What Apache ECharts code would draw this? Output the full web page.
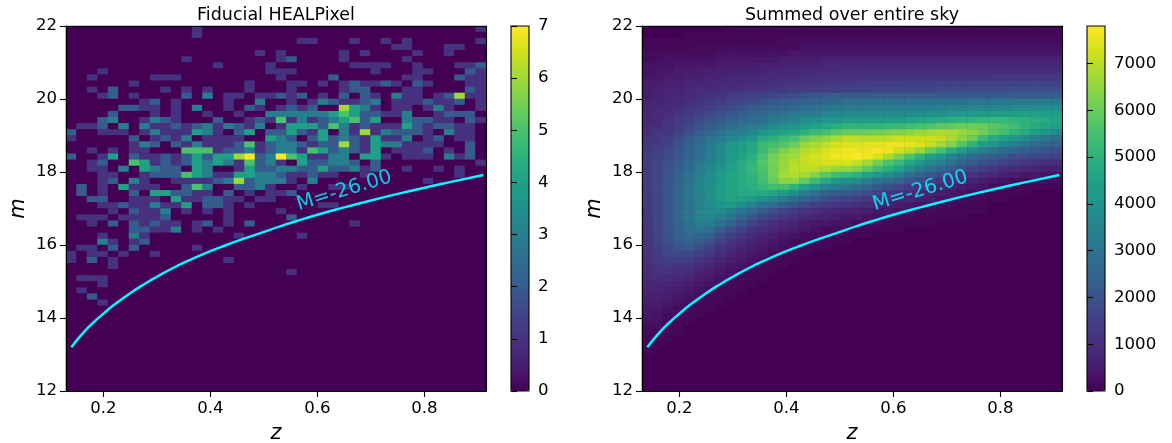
<!DOCTYPE html>
<html><head><meta charset="utf-8">
<style>html,body{margin:0;padding:0;background:#fff}#c{width:1172px;height:443px}</style>
<script src="https://cdn.jsdelivr.net/npm/echarts@6/dist/echarts.min.js"></script>
</head><body><div id="c"></div>
<script>
// Left panel: counts per cell, one object per m-bin row (top row first), keyed by z-bin index.
const fiducialRows = [
{12:1,39:1},{12:1},{22:1,23:1,27:1,30:1,32:1,39:1},{31:1,32:1,36:1,37:1},
{18:1,20:1,26:1,28:1,33:1,36:1},{11:1,20:1,21:2,26:1,32:1},
{14:1,19:1,27:1,28:1,29:1,30:1,33:1,37:1,38:1,39:2},
{3:1,19:1,20:1,21:1,29:1,33:1,34:1,38:2,39:1},
{2:1,8:1,9:1,10:1,20:1,25:2,32:1,33:1,37:2,38:1,39:1},
{6:1,17:1,21:1,22:1,24:1,26:1,27:2,28:1,29:1,30:2,31:1,33:2,34:1,38:1,39:1},
{2:1,4:2,9:1,11:1,13:1,17:1,21:1,26:1,27:2,28:2,32:1,33:1,38:2,39:1},
{3:1,4:2,6:1,11:2,13:3,15:1,16:1,18:1,19:1,20:2,21:1,22:2,24:1,26:2,28:2,29:1,31:3,32:1,33:1,35:1,36:2,37:6,38:1,39:1},
{7:1,8:2,10:1,15:1,18:3,21:1,23:1,24:3,25:2,26:1,27:1,28:2,29:3,31:1,32:1,33:1,34:2,35:1,36:1,37:2,39:1},
{5:2,6:2,7:1,8:1,10:1,12:3,15:1,17:2,18:1,20:1,21:2,22:1,23:2,26:6,27:4,28:3,29:1,31:1,32:1,34:1,35:3,36:1,39:1},
{4:2,8:1,10:1,13:1,16:1,19:3,20:3,21:3,22:3,23:3,24:3,25:4,26:5,27:4,28:2,29:2,30:1,31:1,32:3,35:1,36:2,37:2,38:2},
{3:2,4:3,7:1,8:3,9:2,10:1,14:2,17:1,18:2,19:1,20:5,21:1,22:3,23:1,24:2,25:3,26:4,27:5,28:2,29:4,32:3,33:2,34:2,35:1,36:1,38:2,39:1},
{1:1,2:1,3:2,5:3,7:3,8:1,9:1,10:2,11:1,12:2,13:3,14:1,15:3,16:2,17:1,18:3,20:1,21:4,22:4,23:4,24:2,25:5,26:3,27:1,28:2,29:1,30:1,31:1,32:4,33:2,34:1,35:2,36:2,37:1,38:1},
{0:2,3:1,4:1,5:1,7:1,8:3,9:1,10:1,11:1,12:4,13:3,14:1,16:2,17:4,19:2,20:2,21:4,22:2,23:1,24:4,26:3,27:1,28:6,29:1,30:3,31:2,32:2,33:2,34:1,36:3,37:1,38:1},
{0:1,6:2,8:1,9:2,10:1,11:3,13:1,14:1,15:1,16:1,19:4,20:3,21:2,23:2,24:4,25:2,26:3,27:2,28:1,29:4,30:1,31:1,32:3,34:1,35:2,37:1,38:1},
{6:1,7:3,8:2,10:2,11:1,12:3,13:1,14:1,15:1,16:2,17:5,18:1,19:2,20:3,21:3,22:2,23:1,24:2,25:2,26:6,27:2,28:1,29:4,30:3,31:3,32:1,33:1,34:1,35:1,38:2},
{2:1,4:1,6:1,7:1,11:5,12:5,13:5,14:1,15:2,16:2,17:3,18:1,19:2,20:3,21:3,22:1,23:5,24:4,25:2,26:3,27:2,28:1,29:4,31:1,32:1,33:1,34:2,36:1,38:2},
{0:2,3:1,4:4,6:2,7:1,8:1,9:2,10:1,11:2,12:4,13:2,14:4,15:4,16:6,17:7,18:2,19:3,20:7,21:5,22:4,23:1,24:1,25:3,26:3,28:4,29:4,30:1,32:1,33:1,34:1,36:3,37:1,38:2},
{2:1,3:2,6:5,7:4,8:1,9:2,10:1,11:2,12:4,13:3,14:4,15:3,16:1,17:5,18:2,19:3,20:1,22:4,23:2,24:2,25:3,26:3,27:2,29:2,39:1},
{2:1,3:1,5:3,7:4,8:3,9:2,10:2,12:4,13:3,16:1,17:4,18:2,19:2,20:3,21:3,22:2,23:2,24:4,25:2,26:2,27:3,28:1,29:2,32:1,35:1,37:1},
{3:1,4:1,7:1,8:2,9:2,10:2,11:5,12:4,13:3,14:1,15:1,16:4,17:4,18:3,19:3,20:2,21:1,22:1,23:2,24:1,25:1,28:1,37:1},
{3:1,4:2,6:3,7:1,10:1,11:1,12:1,13:1,14:2,15:3,16:6,17:2,18:3,19:3,20:3,21:1,23:3,34:1},
{1:2,3:1,5:4,6:1,7:1,8:1,11:2,12:5,13:3,16:2,17:2,18:3,19:1,22:1,25:1,26:1},
{1:2,3:1,6:2,8:4,9:4,10:2,11:2,12:1,13:1,15:2,17:1,19:1,20:1,21:2},
{2:2,3:2,6:1,7:1,8:1,10:4,11:1,12:1,13:2,14:2,15:1,16:1,18:1,19:1},
{3:1,4:1,5:2,6:1,7:1,8:3,9:1,10:1,11:4,13:2,14:2,15:1,17:1,24:1,25:1},
{4:1,6:2,7:1,8:1,9:3,11:1,13:1,15:1,20:1},
{1:1,2:1,3:1,5:1,6:1,7:1,8:1,9:2,15:1,21:2},
{2:1,4:2,6:2,7:1,8:2,9:1,10:1,12:1,13:2,15:1,17:2,27:1},
{6:2,7:2,8:1,9:1,10:3,12:1,14:1},
{3:1,6:3,7:1,16:1,22:1},
{3:3,4:1,6:1,7:2},
{1:1,2:1,4:2,6:2,12:1},
{0:1,2:1,3:1,5:1,8:1},
{0:1,2:2,4:1,15:1},
{4:1},{21:1},{1:1,2:1,3:1},{3:1},{1:1},{2:2},{3:1}
];
// Right panel: counts in hundreds, one array per m-bin row (top row first); missing tail cells are 0.
const skyRows = [
[0,0,0,0,0,0,0,0,1,1,1,1,1,1,1,1,1,1,1,1,1,1,1,1,1,1,1,1,1,1,1,1,1,1,1,1,1,1,1,1],
[0,0,0,0,1,1,1,1,1,1,1,1,1,1,1,1,1,1,1,1,1,1,1,1,1,1,1,1,1,1,1,1,1,1,1,1,1,1,1,1],
[1,1,1,1,1,1,1,1,1,1,1,1,1,2,2,2,2,2,2,2,2,2,2,2,2,2,2,2,2,2,2,2,2,2,2,2,2,2,2,2],
[1,1,1,1,1,2,2,2,2,2,2,2,2,2,2,3,3,3,3,3,3,3,3,3,3,3,3,3,3,3,3,3,3,3,3,3,3,3,3,3],
[2,2,2,2,2,2,2,3,3,3,3,3,3,3,4,4,4,4,4,4,4,4,4,4,4,4,4,4,4,4,4,4,4,4,4,4,4,4,4,4],
[2,2,3,3,3,3,3,4,4,4,4,4,4,5,5,5,5,6,6,6,6,6,6,6,6,6,6,6,6,6,6,6,6,6,6,6,6,6,6,6],
[3,3,3,4,4,4,4,5,5,5,5,6,6,6,7,7,7,8,8,8,8,8,8,8,8,8,8,8,8,8,8,8,8,8,8,8,8,8,8,8],
[3,4,4,5,5,5,6,6,6,7,7,7,8,8,8,9,9,9,9,10,10,10,10,10,10,10,10,10,10,10,10,10,10,10,10,10,10,10,10,10],
[4,4,5,5,6,6,7,7,8,8,8,9,9,10,10,10,11,11,11,11,12,12,12,12,12,12,12,12,12,12,12,12,12,13,13,13,13,13,13,13],
[5,5,6,6,7,7,8,8,9,9,10,10,11,11,12,12,12,13,13,13,14,14,14,14,14,15,15,15,15,15,15,15,15,15,15,15,16,16,16,16],
[5,6,7,7,8,9,9,10,10,11,11,12,13,13,14,14,14,15,15,16,16,16,17,17,17,17,17,17,18,18,18,18,18,18,18,19,19,19,19,19],
[5,6,7,8,9,10,11,12,14,15,16,16,17,18,19,20,21,22,23,23,23,23,23,23,23,23,23,23,23,23,23,23,23,23,23,23,23,23,23,23],
[6,7,8,9,10,12,13,14,16,17,18,20,21,22,23,24,25,26,27,28,28,28,28,28,28,28,28,28,29,29,29,30,30,30,31,31,32,32,32,32],
[7,8,9,10,12,13,15,17,18,20,22,23,24,25,26,28,29,30,31,32,32,32,32,33,33,33,34,34,34,35,35,35,35,36,36,37,37,38,38,38],
[8,9,10,12,13,15,17,19,21,23,25,26,28,29,31,32,33,35,36,37,37,37,37,37,37,38,38,39,39,40,41,42,43,43,44,44,45,45,44,44],
[8,9,11,13,15,18,20,22,24,26,27,29,31,33,35,37,39,40,41,42,43,43,43,44,44,45,46,47,48,49,50,51,52,52,52,51,50,49,47,46],
[9,10,12,14,17,20,23,25,28,30,32,34,37,39,41,43,45,47,49,51,51,51,51,52,53,54,55,56,58,59,60,60,60,58,56,54,51,48,46,44],
[10,12,13,16,19,23,26,30,32,34,36,40,43,45,47,50,53,55,58,60,60,60,61,62,63,64,66,67,68,68,66,64,61,57,54,51,48,44,40,37],
[12,13,15,18,22,26,30,33,36,38,41,47,50,53,55,60,63,65,68,71,70,70,70,70,72,72,72,72,71,68,64,60,53,48,44,41,37,33,31,29],
[13,14,16,20,24,28,32,36,42,44,47,53,55,57,60,66,68,70,73,74,74,75,75,76,76,75,73,71,67,63,57,50,44,40,36,33,30,27,25,24],
[13,15,17,21,25,29,33,37,41,44,47,53,58,62,65,69,71,73,75,76,76,76,77,76,72,70,66,60,55,48,42,37,33,30,27,25,23,22,20,19],
[14,16,18,21,25,29,33,37,42,45,49,56,61,65,67,71,73,74,76,77,78,76,73,68,62,56,50,45,40,35,30,27,25,23,21,19,18,17,16,15],
[14,17,19,22,26,30,34,38,43,47,51,57,62,66,69,71,72,73,73,73,71,67,61,56,52,46,41,37,33,29,25,22,20,18,16,14,12,11,10,10],
[14,17,20,23,27,32,36,40,45,48,52,56,61,66,70,70,70,68,66,65,63,58,53,49,45,38,33,29,25,22,19,16,14,12,10,9,8,7,6,6],
[14,17,20,24,29,33,37,42,46,48,51,55,61,67,69,67,63,58,54,52,50,45,41,37,33,28,24,21,18,15,12,11,9,8,6,5,4,4,3,3],
[14,17,21,25,29,35,38,42,46,48,50,54,59,64,64,59,53,47,42,39,37,33,29,27,25,21,18,15,12,10,8,7,5,4,3,2,2,2,2,2],
[14,17,21,25,30,35,38,42,46,48,49,52,54,54,50,45,40,35,32,30,28,25,21,19,17,14,12,10,8,6,5,4,3,2,2,1,1,1,1,1],
[14,17,21,26,30,35,39,43,46,47,47,47,45,42,38,33,28,25,23,21,20,18,15,13,12,10,8,7,5,4,3,2,2,1,1,1,1],
[14,17,21,26,30,35,39,42,46,45,42,39,36,32,28,25,22,19,17,16,15,13,11,10,8,7,6,5,3,3,2,2,1,1,1],
[14,17,21,26,30,35,38,41,42,38,34,30,27,23,20,18,15,13,12,11,10,9,8,6,5,4,3,3,2,2,1,1,1],
[13,17,21,26,30,35,37,38,34,30,26,22,19,16,14,12,10,8,7,6,6,5,4,4,3,3,2,2,1,1,1,1,1],
[13,17,21,26,30,35,37,33,29,25,21,17,14,12,10,8,7,6,5,4,4,3,3,2,2,2,1,1,1,1,1],
[13,17,21,25,29,33,33,29,24,20,16,13,10,8,7,5,4,4,3,3,2,2,2,1,1,1,1,1],
[12,17,20,24,28,30,28,23,19,16,12,10,8,6,5,4,3,2,2,2,1,1,1,1,1],
[12,16,20,24,27,26,23,19,15,12,9,7,6,4,3,2,2,2,1,1,1,1],
[12,16,19,22,24,22,19,15,12,9,7,5,4,3,2,2,1,1,1,1],
[12,15,18,20,21,18,15,12,9,7,5,4,3,2,2,1,1,1],
[11,14,17,17,17,15,12,9,7,5,4,3,2,1,1,1],
[11,13,15,15,14,12,9,7,5,4,3,2,1,1,1],
[10,12,13,12,11,9,7,5,4,3,2,1,1,1],
[9,11,11,10,9,7,5,4,3,2,1,1,1],
[9,10,9,8,7,5,4,3,2,1,1,1],
[8,8,8,6,5,4,3,2,1,1,1],
[7,7,6,5,4,3,2,1,1,1],
[6,6,5,4,3,2,1,1,1],
[5,5,4,3,2,1,1,1],
[4,4,3,2,2,1,1],
[4,3,2,2,1,1],
[3,3,2,1,1],
[2,2,1,1],
[2,1,1,1],
[1,1,1],
[1,1],
[1]
];
const curveZ = [0.14,0.16,0.18,0.2,0.22,0.25,0.28,0.3,0.33,0.36,0.4,0.43,0.46,0.5,0.53,0.56,0.6,0.65,0.7,0.75,0.8,0.85,0.91];
const curveM = [13.2,13.56,13.86,14.12,14.36,14.68,14.96,15.13,15.37,15.58,15.83,16.0,16.16,16.36,16.51,16.65,16.83,17.03,17.22,17.4,17.57,17.73,17.92];
const zTicks = [0.2,0.4,0.6,0.8];
const fidBarTicks = [0,1,2,3,4,5,6,7];
const skyBarTicks = [0,1000,2000,3000,4000,5000,6000,7000];
const panelTitles = ['Fiducial HEALPixel','Summed over entire sky'];
const curveLabel = {z:0.65, m:17.48, text:'M=-26.00'};

const NX=40, NY=60, SKY_MAX=7800;
const viridis=['#440154','#482071','#46327e','#404688','#365c8d','#2e6e8e','#277f8e','#21918c','#1fa187','#2db27d','#4ac16d','#73d056','#a0da39','#d0e11c','#fde725'];
const xCat=Array.from({length:NX},(_,i)=>i), yCat=Array.from({length:NY},(_,i)=>i);
const fidData=[], skyData=[];
for(let r=0;r<NY;r++){const fr=fiducialRows[r]||{}, sr=skyRows[r]||[];
  for(let c=0;c<NX;c++){fidData.push([c,NY-1-r,fr[c]||0]); skyData.push([c,NY-1-r,(sr[c]||0)*100]);}}
const curve=curveZ.map((z,i)=>[z,curveM[i]]);
const FONT='DejaVu Sans', FS=16.6;
const lbl={color:'#000',fontFamily:FONT,fontSize:FS};
const tick={show:true,length:6,lineStyle:{color:'#000',width:1.1}};
const line={show:true,onZero:false,lineStyle:{color:'#000',width:1.1}};
const gridBase={outerBoundsMode:'none',containLabel:false};
const PL=[66,642], BL=[511,1087], T=26, W=420, H=365, BW=18;
const grids=[], xAxes=[], yAxes=[], series=[];
PL.forEach((l,i)=>{
  grids.push({...gridBase,show:true,z:0,backgroundColor:'#440154',borderWidth:0,left:l,top:T,width:W,height:H});
  xAxes.push({type:'category',gridIndex:i,data:xCat,position:'top',z:5,axisLine:line,axisTick:{show:false},axisLabel:{show:false}});
  yAxes.push({type:'category',gridIndex:i,data:yCat,position:'right',z:5,axisLine:line,axisTick:{show:false},axisLabel:{show:false}});
});
PL.forEach((l,i)=>{
  xAxes.push({type:'value',gridIndex:i,position:'bottom',min:0.13,max:0.915,splitLine:{show:false},z:5,
    axisLine:line,
    axisTick:{...tick,customValues:zTicks},
    axisLabel:{...lbl,margin:9,customValues:zTicks,formatter:v=>v.toFixed(1)},
    name:'z',nameLocation:'middle',nameGap:32,nameTextStyle:{color:'#000',fontFamily:FONT,fontStyle:'italic',fontSize:21}});
  yAxes.push({type:'value',gridIndex:i,position:'left',min:12,max:22,interval:2,splitLine:{show:false},z:5,
    axisLine:line,axisTick:tick,axisLabel:{...lbl,margin:9},
    name:'m',nameLocation:'middle',nameGap:37,nameTextStyle:{color:'#000',fontFamily:FONT,fontStyle:'italic',fontSize:21}});
});
BL.forEach((l,i)=>{
  grids.push({...gridBase,show:true,z:6,backgroundColor:'transparent',borderColor:'#000',borderWidth:1.1,left:l,top:T,width:BW,height:H});
  const ticks=i?skyBarTicks:fidBarTicks;
  xAxes.push({type:'value',gridIndex:2+i,show:false,min:0,max:1});
  yAxes.push({type:'value',gridIndex:2+i,position:'right',min:0,max:i?SKY_MAX:7,splitLine:{show:false},z:7,
    axisLine:{show:false},
    axisTick:{...tick,customValues:ticks},
    axisLabel:{...lbl,margin:9,customValues:ticks,formatter:v=>String(v)}});
});
[fidData,skyData].forEach((d,i)=>{
  series.push({type:'heatmap',xAxisIndex:i,yAxisIndex:i,data:d,progressive:0,silent:true,itemStyle:{borderWidth:0},emphasis:{disabled:true}});
});
[0,1].forEach(i=>{
  series.push({type:'line',xAxisIndex:2+i,yAxisIndex:2+i,data:curve,smooth:0.5,showSymbol:false,symbol:'none',silent:true,z:4,
    lineStyle:{color:'#00ffff',width:2.5}});
  series.push({type:'scatter',xAxisIndex:2+i,yAxisIndex:2+i,data:[[curveLabel.z,curveLabel.m]],symbolSize:0,silent:true,z:5,
    label:{show:true,position:'inside',formatter:curveLabel.text,rotate:17,color:'#00ffff',fontFamily:FONT,fontSize:20}});
});
// empty series so the colour-bar axes are kept
[0,1].forEach(i=>series.push({type:'line',xAxisIndex:4+i,yAxisIndex:4+i,data:[],silent:true}));
const chart=echarts.init(document.getElementById('c'),null,{renderer:'canvas',width:1172,height:443});
chart.setOption({
  animation:false,backgroundColor:'#fff',
  title:panelTitles.map((t,i)=>({text:t,left:PL[i]+W/2,top:6,textAlign:'center',padding:0,
    textStyle:{color:'#000',fontFamily:FONT,fontSize:17.5,fontWeight:'normal'}})),
  grid:grids,xAxis:xAxes,yAxis:yAxes,
  visualMap:[0,1].map(i=>({type:'continuous',seriesIndex:i,min:0,max:i?SKY_MAX:7,left:BL[i],top:T,itemWidth:BW,itemHeight:H,
    padding:0,text:null,calculable:false,hoverLink:false,showLabel:false,inRange:{color:viridis},z:4})),
  series
});
</script></body></html>
